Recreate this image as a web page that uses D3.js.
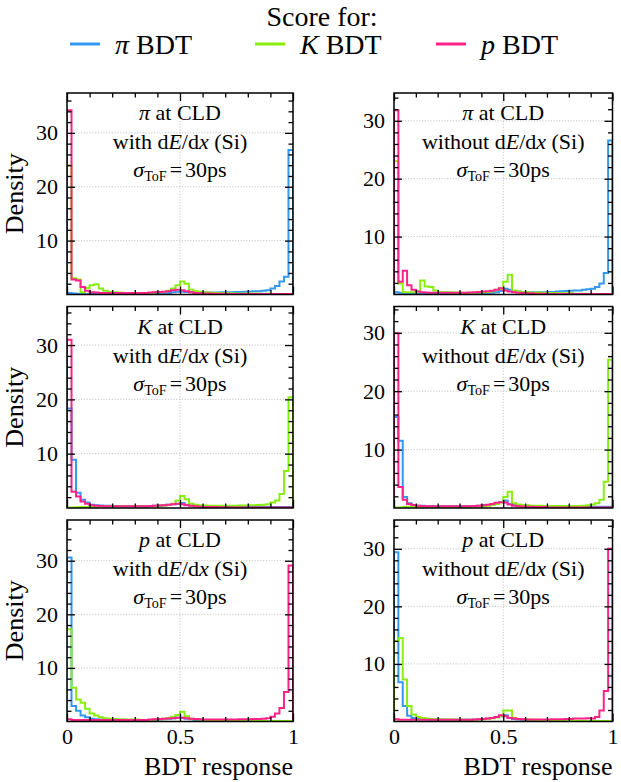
<!DOCTYPE html>
<html>
<head>
<meta charset="utf-8">
<script src="https://cdn.jsdelivr.net/npm/d3@7"></script>
<style>
  body { margin: 0; background: #fff; }
  svg { display: block; }
</style>
</head>
<body>
<svg id="fig" width="621" height="782"></svg>
<script>
const serifFont = "'Liberation Serif', 'Times New Roman', Times, 'Nimbus Roman', 'DejaVu Serif', serif";

// ---- categories and labels ----
const particles = ["π", "K", "p"];               // true particle per row
const dedxOptions = ["with", "without"];         // dE/dx (Si) usage per column
const scoreNames = ["π", "K", "p"];              // BDT score series
const scoreColors = ["#3399f0", "#88ee11", "#ff2288"];
const xTickValues = [0, 0.5, 1];
const xTickLabels = ["0", "0.5", "1"];
const yTickValues = [10, 20, 30];
const tofResolution = "30ps";
const binCount = 50;

// upper y limit of every panel [row][col]
const yLimits = [[37.4, 34.8], [37.1, 34.5], [37.6, 35.0]];

// ---- histogram densities, 50 bins on [0, 1] ----
// pions, with dE/dx
const piWithPiBDT = [0.3,0.2,0.15,0.1,0.1,0.1,0.1,0.1,0.1,0.1, 0.1,0.1,0.1,0.1,0.1,0.1,0.1,0.15,0.15,0.2, 0.2,0.25,0.3,0.4,0.5,0.5,0.45,0.4,0.35,0.35, 0.35,0.35,0.35,0.35,0.4,0.4,0.4,0.45,0.45,0.5, 0.55,0.6,0.6,0.7,0.8,1.1,1.6,2.4,3.3,26.8];
const piWithKBDT  = [24,3.0,2.8,0.4,1.2,1.7,1.9,1.1,0.7,0.5, 0.4,0.35,0.3,0.3,0.3,0.3,0.3,0.3,0.3,0.35, 0.4,0.5,0.7,1.1,1.7,2.4,2.0,0.9,0.6,0.5, 0.4,0.35,0.3,0.3,0.3,0.25,0.25,0.2,0.2,0.2, 0.2,0.2,0.15,0.15,0.15,0.1,0.1,0.1,0.1,0.1];
const piWithPBDT  = [34.2,2.8,2.6,1.4,0.7,0.4,0.35,0.3,0.3,0.3, 0.3,0.3,0.3,0.3,0.3,0.3,0.3,0.3,0.35,0.4, 0.45,0.5,0.6,0.8,0.9,0.8,0.6,0.4,0.3,0.25, 0.2,0.2,0.15,0.15,0.15,0.1,0.1,0.1,0.1,0.1, 0.1,0.1,0.1,0.1,0.1,0.1,0.1,0.1,0.1,0.1];
// pions, without dE/dx
const piWoPiBDT = [0.4,0.3,0.2,0.15,0.15,0.1,0.1,0.1,0.1,0.1, 0.1,0.1,0.1,0.1,0.1,0.1,0.1,0.15,0.15,0.2, 0.2,0.25,0.3,0.4,0.6,1.0,0.8,0.6,0.5,0.45, 0.4,0.4,0.4,0.4,0.4,0.45,0.45,0.5,0.55,0.6, 0.65,0.7,0.7,0.8,0.9,1.0,1.3,1.9,3.7,26.6];
const piWoKBDT  = [23,1.9,0.4,0.4,0.4,0.5,2.4,1.4,1.3,0.7, 0.45,0.4,0.4,0.35,0.35,0.3,0.3,0.3,0.3,0.35, 0.4,0.45,0.55,0.8,1.0,2.2,3.4,0.7,0.5,0.45, 0.4,0.35,0.35,0.3,0.3,0.25,0.25,0.2,0.2,0.2, 0.2,0.15,0.15,0.15,0.1,0.1,0.1,0.1,0.1,0.1];
const piWoPBDT  = [31.8,2.2,4.1,1.6,0.8,0.5,0.4,0.35,0.3,0.3, 0.3,0.3,0.3,0.3,0.3,0.3,0.3,0.35,0.4,0.45, 0.5,0.55,0.65,0.8,1.1,0.7,0.5,0.4,0.3,0.25, 0.2,0.2,0.15,0.15,0.15,0.1,0.1,0.1,0.1,0.1, 0.1,0.1,0.1,0.1,0.1,0.1,0.1,0.1,0.1,0.1];
// kaons, with dE/dx
const kWithPiBDT = [18.3,8.9,2.8,1.5,1.0,0.6,0.5,0.45,0.4,0.4, 0.35,0.35,0.3,0.3,0.3,0.3,0.3,0.3,0.35,0.4, 0.45,0.5,0.6,0.7,0.8,0.9,0.6,0.45,0.4,0.35, 0.3,0.3,0.25,0.25,0.25,0.2,0.2,0.2,0.2,0.2, 0.2,0.2,0.2,0.2,0.2,0.2,0.2,0.2,0.2,0.2];
const kWithKBDT  = [0.1,0.1,0.15,0.2,0.2,0.25,0.25,0.3,0.3,0.3, 0.3,0.3,0.3,0.3,0.3,0.3,0.3,0.3,0.3,0.35, 0.4,0.45,0.55,0.8,1.4,2.2,1.6,0.8,0.6,0.5, 0.45,0.4,0.4,0.4,0.4,0.4,0.4,0.4,0.45,0.45, 0.5,0.5,0.55,0.6,0.7,1.0,1.4,2.6,6.8,20.4];
const kWithPBDT  = [31.0,3.0,2.1,1.2,0.8,0.5,0.4,0.35,0.3,0.3, 0.3,0.3,0.3,0.3,0.3,0.3,0.3,0.3,0.35,0.4, 0.45,0.5,0.6,0.7,0.8,0.7,0.5,0.4,0.3,0.25, 0.2,0.2,0.2,0.15,0.15,0.15,0.1,0.1,0.1,0.1, 0.1,0.1,0.1,0.1,0.1,0.1,0.1,0.1,0.1,0.1];
// kaons, without dE/dx
const kWoPiBDT = [15.6,11.5,1.9,0.8,0.5,0.4,0.4,0.35,0.35,0.3, 0.3,0.3,0.3,0.3,0.3,0.3,0.3,0.3,0.35,0.4, 0.45,0.5,0.6,0.8,1.0,1.3,0.7,0.5,0.4,0.35, 0.3,0.3,0.25,0.25,0.25,0.2,0.2,0.2,0.2,0.2, 0.2,0.2,0.2,0.2,0.2,0.2,0.2,0.2,0.2,0.2];
const kWoKBDT  = [0.1,0.1,0.15,0.2,0.2,0.2,0.2,0.2,0.2,0.2, 0.2,0.2,0.2,0.2,0.2,0.2,0.2,0.25,0.25,0.3, 0.35,0.4,0.5,0.7,1.0,1.9,2.8,0.8,0.6,0.5, 0.45,0.4,0.4,0.4,0.35,0.35,0.35,0.35,0.35,0.35, 0.35,0.35,0.35,0.4,0.45,0.6,0.8,1.4,4.5,25.4];
const kWoPBDT  = [29.9,3.6,1.4,0.7,0.5,0.4,0.35,0.3,0.3,0.3, 0.3,0.3,0.3,0.3,0.3,0.3,0.3,0.3,0.35,0.4, 0.45,0.55,0.7,0.9,1.0,0.95,0.6,0.4,0.3,0.25, 0.2,0.2,0.15,0.15,0.15,0.1,0.1,0.1,0.1,0.1, 0.1,0.1,0.1,0.1,0.1,0.1,0.1,0.1,0.1,0.1];
// protons, with dE/dx
const pWithPiBDT = [30.6,2.9,2.0,1.1,0.8,0.5,0.4,0.35,0.3,0.3, 0.3,0.3,0.25,0.25,0.25,0.25,0.25,0.25,0.3,0.3, 0.35,0.4,0.5,0.6,0.7,0.7,0.5,0.4,0.3,0.25, 0.2,0.2,0.2,0.15,0.15,0.15,0.1,0.1,0.1,0.1, 0.1,0.1,0.1,0.1,0.1,0.1,0.1,0.1,0.1,0.1];
const pWithKBDT  = [17.2,6.3,4.1,3.5,2.4,1.5,1.1,0.8,0.6,0.5, 0.45,0.4,0.4,0.35,0.35,0.35,0.3,0.3,0.3,0.35, 0.4,0.5,0.6,0.9,1.2,1.8,1.0,0.5,0.4,0.35, 0.3,0.3,0.25,0.25,0.2,0.2,0.2,0.2,0.15,0.15, 0.15,0.15,0.1,0.1,0.1,0.1,0.1,0.1,0.1,0.1];
const pWithPBDT  = [0.4,0.3,0.3,0.3,0.3,0.3,0.3,0.3,0.3,0.3, 0.3,0.3,0.3,0.3,0.3,0.3,0.3,0.3,0.35,0.4, 0.45,0.5,0.55,0.6,0.7,0.7,0.6,0.5,0.45,0.4, 0.35,0.35,0.35,0.35,0.35,0.35,0.35,0.35,0.4,0.4, 0.4,0.45,0.45,0.5,0.6,0.9,1.5,2.5,5.5,29.1];
// protons, without dE/dx
const pWoPiBDT = [29.4,6.8,2.7,1.0,0.6,0.45,0.4,0.35,0.3,0.3, 0.3,0.3,0.3,0.3,0.3,0.3,0.3,0.3,0.35,0.4, 0.45,0.5,0.6,0.8,0.9,1.1,0.6,0.45,0.35,0.3, 0.25,0.25,0.2,0.2,0.2,0.15,0.15,0.15,0.1,0.1, 0.1,0.1,0.1,0.1,0.1,0.1,0.1,0.1,0.1,0.1];
const pWoKBDT  = [14.0,14.5,7.3,2.7,1.2,0.8,0.6,0.5,0.45,0.4, 0.4,0.35,0.35,0.35,0.3,0.3,0.3,0.3,0.3,0.35, 0.4,0.45,0.55,0.7,0.9,1.9,1.9,0.6,0.45,0.4, 0.35,0.3,0.3,0.25,0.25,0.2,0.2,0.2,0.2,0.15, 0.15,0.15,0.15,0.1,0.1,0.1,0.1,0.1,0.1,0.1];
const pWoPBDT  = [0.4,0.3,0.3,0.3,0.3,0.3,0.3,0.3,0.3,0.3, 0.3,0.3,0.3,0.3,0.3,0.3,0.3,0.3,0.35,0.4, 0.45,0.5,0.6,0.8,1.1,0.9,0.6,0.5,0.45,0.4, 0.35,0.35,0.35,0.35,0.35,0.35,0.4,0.4,0.4,0.45, 0.45,0.5,0.5,0.5,0.55,0.5,0.8,1.9,5.3,30.0];

// panel table [row][col] -> [π BDT, K BDT, p BDT]
const panelSeries = [
  [[piWithPiBDT, piWithKBDT, piWithPBDT], [piWoPiBDT, piWoKBDT, piWoPBDT]],
  [[kWithPiBDT, kWithKBDT, kWithPBDT],    [kWoPiBDT, kWoKBDT, kWoPBDT]],
  [[pWithPiBDT, pWithKBDT, pWithPBDT],    [pWoPiBDT, pWoKBDT, pWoPBDT]]
];

// ---- layout ----
const colX = [[67, 293], [394, 612.5]];
const rowY = [[93, 294.5], [306.5, 508], [520, 721.5]];
const fs = { tick: 22, label: 26, note: 22, legend: 28 };

const svg = d3.select("#fig").attr("font-family", serifFont);
const binEdges = d3.range(binCount + 1).map(i => i / binCount);
const txt = sel => sel.attr("font-family", serifFont).attr("fill", "#000");

// ---- legend ----
svg.append("text").call(txt).attr("x", 322).attr("y", 26).attr("text-anchor", "middle")
  .attr("font-size", fs.legend).text("Score for:");
const legendX = [70, 255, 436];
scoreNames.forEach((name, i) => {
  const g = svg.append("g").attr("transform", `translate(${legendX[i]},44)`);
  g.append("line").attr("x1", 0).attr("x2", 30).attr("y1", 0).attr("y2", 0)
    .attr("stroke", scoreColors[i]).attr("stroke-width", 3);
  const t = g.append("text").call(txt).attr("x", 45).attr("y", 10).attr("font-size", fs.legend);
  t.append("tspan").attr("font-style", "italic").text(name);
  t.append("tspan").text(" BDT");
});

// ---- panels ----
particles.forEach((particle, r) => {
  dedxOptions.forEach((opt, c) => {
    const [x0, x1] = colX[c];
    const [y0, y1] = rowY[r];
    const x = d3.scaleLinear().domain([0, 1]).range([x0, x1]);
    const y = d3.scaleLinear().domain([0, yLimits[r][c]]).range([y1, y0]);
    const id = `clip-${r}-${c}`;
    svg.append("clipPath").attr("id", id).append("rect")
      .attr("x", x0).attr("y", y0).attr("width", x1 - x0).attr("height", y1 - y0);

    // grid
    const grid = svg.append("g").attr("stroke", "#b8b8b8").attr("stroke-width", 0.8)
      .attr("stroke-dasharray", "1.2,1.6");
    grid.selectAll(".gx").data(xTickValues).join("line")
      .attr("x1", d => x(d)).attr("x2", d => x(d)).attr("y1", y0).attr("y2", y1);
    grid.selectAll(".gy").data(yTickValues).join("line")
      .attr("x1", x0).attr("x2", x1).attr("y1", d => y(d)).attr("y2", d => y(d));

    // step histograms
    const line = d3.line().x(d => x(d[0])).y(d => y(d[1])).curve(d3.curveStepAfter);
    const plot = svg.append("g").attr("clip-path", `url(#${id})`);
    panelSeries[r][c].forEach((vals, s) => {
      const pts = [[0, 0]].concat(vals.map((v, i) => [binEdges[i], v]))
        .concat([[1, vals[vals.length - 1]], [1, 0]]);
      plot.append("path").attr("d", line(pts)).attr("fill", "none")
        .attr("stroke", scoreColors[s]).attr("stroke-width", 2)
        .attr("stroke-linejoin", "miter");
    });

    // ticks (inward, all four sides)
    const yMinor = d3.range(0, yLimits[r][c], 2).filter(v => v % 10 !== 0);
    const xMinor = d3.range(1, 10).map(i => i / 10).filter(v => v !== 0.5);
    const styleAxis = g => { g.select(".domain").remove(); g.selectAll("line").attr("stroke-width", 1.3); };
    const fontAxis = g => g.attr("font-family", serifFont).selectAll("text").attr("font-size", fs.tick);

    svg.append("g").attr("transform", `translate(${x0},0)`)
      .call(d3.axisLeft(y).tickValues(yTickValues).tickSize(-8).tickPadding(9))
      .call(styleAxis).call(fontAxis);
    svg.append("g").attr("transform", `translate(${x0},0)`)
      .call(d3.axisLeft(y).tickValues(yMinor).tickSize(-4.5).tickFormat(""))
      .call(styleAxis);
    svg.append("g").attr("transform", `translate(${x1},0)`)
      .call(d3.axisRight(y).tickValues(yTickValues).tickSize(-8).tickFormat(""))
      .call(styleAxis);
    svg.append("g").attr("transform", `translate(${x1},0)`)
      .call(d3.axisRight(y).tickValues(yMinor).tickSize(-4.5).tickFormat(""))
      .call(styleAxis);

    const bottom = d3.axisBottom(x).tickValues(xTickValues).tickSize(-8).tickPadding(7);
    if (r < 2) bottom.tickFormat("");
    else bottom.tickFormat((d, i) => xTickLabels[i]);
    svg.append("g").attr("transform", `translate(0,${y1})`).call(bottom)
      .call(styleAxis).call(fontAxis);
    svg.append("g").attr("transform", `translate(0,${y1})`)
      .call(d3.axisBottom(x).tickValues(xMinor).tickSize(-4.5).tickFormat(""))
      .call(styleAxis);
    svg.append("g").attr("transform", `translate(0,${y0})`)
      .call(d3.axisTop(x).tickValues(xTickValues).tickSize(-8).tickFormat(""))
      .call(styleAxis);
    svg.append("g").attr("transform", `translate(0,${y0})`)
      .call(d3.axisTop(x).tickValues(xMinor).tickSize(-4.5).tickFormat(""))
      .call(styleAxis);

    // frame
    svg.append("rect").attr("x", x0).attr("y", y0).attr("width", x1 - x0).attr("height", y1 - y0)
      .attr("fill", "none").attr("stroke", "#000").attr("stroke-width", 1.5);

    // annotation
    const cx = (x0 + x1) / 2;
    const t1 = svg.append("text").call(txt).attr("x", cx).attr("y", y0 + 27).attr("text-anchor", "middle").attr("font-size", fs.note);
    t1.append("tspan").attr("font-style", "italic").text(particle);
    t1.append("tspan").text(" at CLD");
    const t2 = svg.append("text").call(txt).attr("x", cx).attr("y", y0 + 56).attr("text-anchor", "middle").attr("font-size", fs.note);
    t2.append("tspan").text(`${opt} d`);
    t2.append("tspan").attr("font-style", "italic").text("E");
    t2.append("tspan").text("/d");
    t2.append("tspan").attr("font-style", "italic").text("x");
    t2.append("tspan").text(" (Si)");
    const t3 = svg.append("text").call(txt).attr("x", cx).attr("y", y0 + 84).attr("text-anchor", "middle").attr("font-size", fs.note);
    t3.append("tspan").attr("font-style", "italic").text("σ");
    t3.append("tspan").attr("font-size", fs.note * 0.64).attr("dy", 4).text("ToF");
    t3.append("tspan").attr("dy", -4).attr("dx", 3).text("=");
    t3.append("tspan").attr("dx", 3).text(tofResolution);

    // axis titles
    if (c === 0) {
      svg.append("text").call(txt).attr("transform", `translate(23,${(y0 + y1) / 2}) rotate(-90)`)
        .attr("text-anchor", "middle").attr("font-size", fs.label).text("Density");
    }
    if (r === 2) {
      svg.append("text").call(txt).attr("x", x1).attr("y", 775).attr("text-anchor", "end")
        .attr("font-size", fs.label).text("BDT response");
    }
  });
});
</script>
</body>
</html>
